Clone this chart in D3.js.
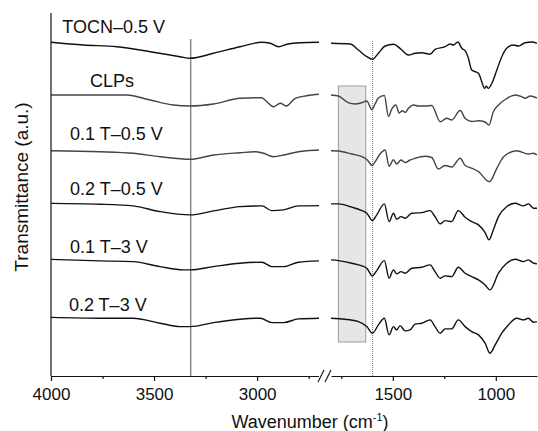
<!DOCTYPE html>
<html>
<head>
<meta charset="utf-8">
<script src="https://cdn.jsdelivr.net/npm/d3@7"></script>
<style>
  body { margin: 0; background: #fff; }
  text { font-family: "Liberation Sans", Arial, sans-serif; }
</style>
</head>
<body>
<div id="chart"></div>
<script>
'use strict';

// sample names, top to bottom
const seriesNames = ["TOCN\u20130.5 V", "CLPs", "0.1 T\u20130.5 V", "0.2 T\u20130.5 V", "0.1 T\u20133 V", "0.2 T\u20133 V"];
// vertical offset of each spectrum (a.u.)
const offsets = [333.7, 281, 225.3, 172.6, 116.6, 58.6];

// spectra: [wavenumber, transmittance relative to own baseline]
const tocn = [[4000,0],[3843,-2.7],[3681,-4.4],[3519,-9.4],[3374,-14.4],[3325,-16],[3212,-11],[3083,-4.4],[2978,0],[2937,-1],[2896,-4.4],[2856,-2],[2791,-0.4],[2700,0],
  [1800,-1],[1707,-1.7],[1667,-7.7],[1626,-14.4],[1599,-17],[1570,-11],[1537,-3.7],[1497,-2],[1465,-6],[1424,-12.7],[1392,-11],[1359,-10.4],[1319,-12],[1295,-7],[1246,-4.4],[1222,-1.7],[1206,-2.7],[1184,0.3],[1165,-6],[1149,-8.4],[1133,-16],[1117,-27.7],[1100,-29.4],[1084,-31],[1068,-39.4],[1055,-46],[1046,-44],[1036,-46],[1019,-41],[995,-27.7],[971,-14.4],[947,-6],[915,-2.7],[890,-3.7],[858,-0.4],[825,0.3],[800,-1]];
const clps = [[4000,0],[3633,0],[3519,-5],[3406,-10],[3325,-11],[3212,-9],[3083,-3.3],[2978,-2.7],[2953,-6.7],[2921,-11.7],[2888,-8.3],[2859,-11],[2815,-3.3],[2759,-0.7],[2700,0.7],
  [1800,0],[1764,-1],[1716,-7.7],[1683,-9],[1650,-7.7],[1626,-6],[1602,-14.5],[1586,-9],[1570,-3],[1541,-0.5],[1521,-21.5],[1505,-14],[1485,-10],[1469,-18],[1453,-15.7],[1440,-17.5],[1424,-13.3],[1400,-10],[1376,-11],[1343,-11],[1311,-10.5],[1270,-26.7],[1238,-23.3],[1214,-25],[1173,-15.5],[1149,-23.3],[1117,-26.5],[1084,-25.8],[1052,-27],[1033,-30],[1012,-16.7],[987,-10],[947,-3.5],[906,0],[874,-1.7],[858,-3.3],[833,-1],[800,-3]];
const t01v05 = [[4000,0],[3762,-1],[3602,-2.6],[3471,-6],[3325,-8.6],[3212,-4.3],[3083,-2],[3011,-1],[2969,-2.6],[2921,-6],[2872,-4.3],[2800,-1],[2759,0],[2700,0.7],
  [1800,0],[1764,-0.3],[1699,-3.3],[1650,-6],[1626,-8.8],[1599,-14.8],[1586,-11],[1562,-3.3],[1537,0.7],[1518,-15.6],[1497,-9],[1481,-13.3],[1460,-9.3],[1440,-11.8],[1416,-9.3],[1392,-7.6],[1343,-5.6],[1311,-6.8],[1279,-18.3],[1246,-14.8],[1214,-16.3],[1173,-7.6],[1149,-14.8],[1117,-17.5],[1084,-21],[1031,-31],[995,-17.6],[962,-6],[898,0],[842,-3.3],[817,-2.6],[800,-4.3]];
const t02v05 = [[4000,0],[3762,-0.8],[3602,-2.5],[3471,-8.2],[3325,-11.5],[3212,-7.5],[3083,-3.2],[2977,-2.5],[2929,-7.2],[2872,-6.5],[2800,-2.5],[2700,-2.2],
  [1800,-0.5],[1764,-0.5],[1699,-3.8],[1650,-7.2],[1626,-9.8],[1599,-17.2],[1578,-11.5],[1541,-0.5],[1518,-18.2],[1497,-9.8],[1481,-15.8],[1460,-13.2],[1440,-14.8],[1408,-9.8],[1359,-9.2],[1319,-7.2],[1295,-13.2],[1270,-20.5],[1246,-17.2],[1214,-18.2],[1182,-7.2],[1149,-13.8],[1117,-18.2],[1084,-21.5],[1052,-29.2],[1033,-36.5],[1012,-26.5],[987,-13.2],[947,-3.2],[906,0.2],[866,-2.5],[842,-0.5],[817,-4.8],[800,-4.8]];
const t01v3 = [[4000,0],[3762,-1.5],[3602,-2.2],[3471,-7.2],[3359,-10.5],[3325,-10.5],[3212,-7.2],[3083,-3.8],[2977,-2.8],[2929,-7.2],[2872,-7.2],[2800,-2.8],[2700,-1.5],
  [1800,-0.5],[1764,-1.2],[1699,-3.8],[1650,-6.5],[1626,-8.8],[1599,-16.5],[1578,-11.2],[1541,-1.2],[1518,-18.8],[1497,-10.5],[1481,-14.5],[1460,-12.2],[1440,-13.8],[1408,-8.8],[1359,-7.8],[1319,-5.5],[1295,-12.2],[1270,-18.8],[1246,-16.5],[1214,-17.2],[1182,-7.8],[1149,-13.8],[1117,-17.2],[1084,-20.5],[1052,-25.5],[1028,-30.5],[987,-13.8],[947,-3.8],[906,0.2],[866,-2.2],[842,-0.5],[817,-3.8],[800,-4.5]];
const t02v3 = [[4000,0],[3762,-0.8],[3602,-0.8],[3471,-5.8],[3374,-9.2],[3325,-9.2],[3212,-5.2],[3083,-1.8],[2985,-0.8],[2929,-5.2],[2872,-5.2],[2800,-1.5],[2700,-0.8],
  [1800,-0.8],[1732,-1.8],[1667,-4.2],[1626,-9.2],[1599,-15.8],[1570,-7.5],[1541,-0.8],[1518,-17.5],[1497,-9.2],[1481,-12.5],[1465,-8.2],[1440,-13.5],[1416,-12.5],[1392,-6.8],[1359,-5.8],[1319,-2.5],[1295,-9.2],[1270,-15.8],[1246,-11.5],[1214,-11.5],[1182,-2.5],[1149,-9.2],[1117,-14.2],[1084,-17.5],[1052,-25.8],[1028,-35.8],[1003,-27.5],[971,-15.8],[939,-7.5],[898,-0.8],[866,-2.5],[842,-0.8],[817,-4.8],[800,-4.2]];
const spectra = [tocn, clps, t01v05, t02v05, t01v3, t02v3];

// tick values for the broken x axis
const leftMajor = [4000, 3500, 3000];
const leftMinor = [3750, 3250, 2750];
const rightMajor = [1500, 1000];
const rightMinor = [1750, 1250];

// marker lines and highlighted band (cm-1)
const solidLineWn = 3322;
const dottedLineWn = 1598;
const bandWn = [1764, 1631];

const width = 538, height = 431;
const svg = d3.select("#chart").append("svg")
    .attr("width", width)
    .attr("height", height);

// two x scales for the broken axis
const xLeft = d3.scaleLinear().domain([4000, 2700]).range([51, 319]);
const xRight = d3.scaleLinear().domain([1800, 800]).range([331, 537]);
const y = d3.scaleLinear().domain([0, 363]).range([376, 13]);

const strokeColors = ["#111", "#444", "#444", "#111", "#111", "#111"];
const labelWn = [3945, 3811, 3908, 3908, 3908, 3913];
const labelDy = [-9, -8, -11, -8.5, -6, -6.5];

// gray band behind curves
svg.append("rect")
    .attr("x", xRight(bandWn[0]))
    .attr("y", 86)
    .attr("width", xRight(bandWn[1]) - xRight(bandWn[0]))
    .attr("height", 256)
    .attr("fill", "#e6e6e6")
    .attr("stroke", "#9a9a9a")
    .attr("stroke-width", 1);

// vertical marker lines
svg.append("line")
    .attr("x1", xLeft(solidLineWn)).attr("x2", xLeft(solidLineWn))
    .attr("y1", 39).attr("y2", 376)
    .attr("stroke", "#555").attr("stroke-width", 1);
svg.append("line")
    .attr("x1", xRight(dottedLineWn)).attr("x2", xRight(dottedLineWn))
    .attr("y1", 41).attr("y2", 376)
    .attr("stroke", "#777").attr("stroke-width", 1)
    .attr("stroke-dasharray", "1,1");

// spectra, each drawn as two segments
spectra.forEach(function(data, i) {
    let leftPart = data.filter(d => d[0] >= 2700);
    let rightPart = data.filter(d => d[0] <= 1800);
    let lineLeft = d3.line()
        .x(d => xLeft(d[0]))
        .y(d => y(offsets[i] + d[1]))
        .curve(d3.curveMonotoneX);
    let lineRight = d3.line()
        .x(d => xRight(d[0]))
        .y(d => y(offsets[i] + d[1]))
        .curve(d3.curveMonotoneX);
    [[leftPart, lineLeft], [rightPart, lineRight]].forEach(function(p) {
        svg.append("path")
            .datum(p[0])
            .attr("d", p[1])
            .attr("fill", "none")
            .attr("stroke", strokeColors[i])
            .attr("stroke-width", 1.4)
            .attr("stroke-linejoin", "round");
    });
    svg.append("text")
        .attr("x", xLeft(labelWn[i]))
        .attr("y", y(offsets[i]) + labelDy[i])
        .attr("font-size", 18)
        .attr("fill", "#111")
        .text(seriesNames[i]);
});

// y axis line, no ticks
svg.append("line")
    .attr("x1", 51).attr("x2", 51)
    .attr("y1", 13).attr("y2", 376)
    .attr("stroke", "#111").attr("stroke-width", 1.2);

// x axis segments
function drawAxis(scale, major, minor) {
    let g = svg.append("g")
        .attr("transform", "translate(0,376)")
        .call(d3.axisBottom(scale).tickValues(major).tickFormat(d3.format("d"))
            .tickSize(5).tickSizeOuter(0).tickPadding(7));
    g.select(".domain").attr("stroke", "#111").attr("stroke-width", 1.2);
    g.selectAll(".tick line").attr("stroke", "#111").attr("stroke-width", 1.2);
    g.selectAll(".tick text")
        .attr("font-size", 17)
        .attr("font-family", "'Liberation Sans', Arial, sans-serif")
        .attr("fill", "#111");
    let m = svg.append("g")
        .attr("transform", "translate(0,376)")
        .call(d3.axisBottom(scale).tickValues(minor).tickSize(3).tickFormat(""));
    m.select(".domain").remove();
    m.selectAll(".tick line").attr("stroke", "#111").attr("stroke-width", 1.2);
}
drawAxis(xLeft, leftMajor, leftMinor);
drawAxis(xRight, rightMajor, rightMinor);

// axis break marks
svg.append("rect").attr("x", 319).attr("y", 373).attr("width", 12).attr("height", 6).attr("fill", "#fff");
[318, 325].forEach(function(x0) {
    svg.append("line")
        .attr("x1", x0).attr("y1", 382)
        .attr("x2", x0 + 6).attr("y2", 370)
        .attr("stroke", "#111").attr("stroke-width", 1.1);
});

// axis titles
let xTitle = svg.append("text")
    .attr("x", 310)
    .attr("y", 428)
    .attr("text-anchor", "middle")
    .attr("font-size", 18)
    .attr("fill", "#111");
xTitle.append("tspan").text("Wavenumber (cm");
xTitle.append("tspan").attr("font-size", 11).attr("dy", -7).text("-1");
xTitle.append("tspan").attr("dy", 7).text(")");

svg.append("text")
    .attr("transform", "translate(28,187) rotate(-90)")
    .attr("text-anchor", "middle")
    .attr("font-size", 19)
    .attr("fill", "#111")
    .text("Transmittance (a.u.)");
</script>
</body>
</html>
